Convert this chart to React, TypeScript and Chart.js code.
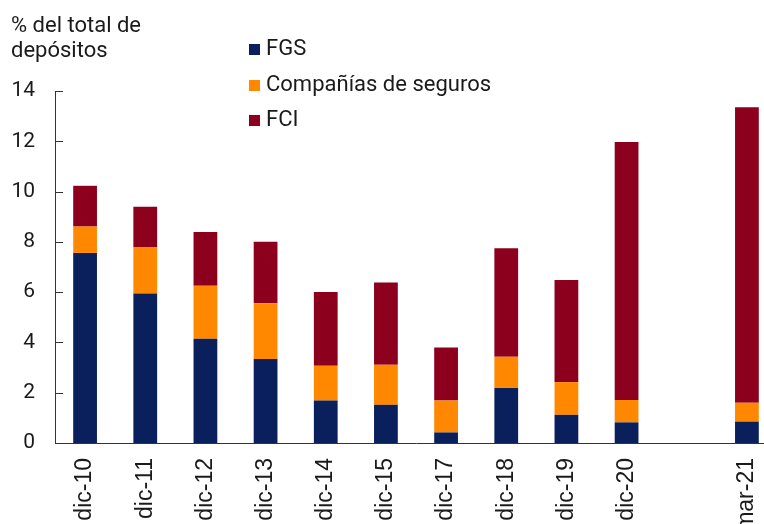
import React, { useEffect, useRef } from 'react';
import { Chart, registerables } from 'chart.js';

Chart.register(...registerables);

const categories = ['dic-10', 'dic-11', 'dic-12', 'dic-13', 'dic-14', 'dic-15', 'dic-17', 'dic-18', 'dic-19', 'dic-20', '', 'mar-21'];
const fgs = [7.56, 5.95, 4.15, 3.34, 1.69, 1.52, 0.42, 2.19, 1.12, 0.82, null, 0.85];
const companias = [1.05, 1.85, 2.1, 2.22, 1.38, 1.59, 1.27, 1.24, 1.3, 0.89, null, 0.75];
const fci = [1.62, 1.6, 2.14, 2.44, 2.94, 3.27, 2.11, 4.32, 4.06, 10.26, null, 11.75];
const yTicks = [0, 2, 4, 6, 8, 10, 12, 14];
const titleLines = ['% del total de', 'depósitos'];
const seriesNames = ['FGS', 'Compañías de seguros', 'FCI'];
const seriesColors = ['#0a205c', '#ff8800', '#8c001e'];

const AXIS = '#333333';
const TEXT = '#1a1a1a';

const overlayPlugin = {
  id: 'overlay',
  afterDraw(chart: any) {
    const ctx = chart.ctx;
    const y = chart.scales.y;
    const area = chart.chartArea;
    ctx.save();
    // inward y ticks
    ctx.strokeStyle = AXIS;
    ctx.lineWidth = 1;
    yTicks.forEach((v) => {
      const py = Math.round(y.getPixelForValue(v)) + 0.5;
      ctx.beginPath();
      ctx.moveTo(area.left, py);
      ctx.lineTo(area.left + 8, py);
      ctx.stroke();
    });
    // title
    ctx.fillStyle = TEXT;
    ctx.font = '22px Roboto';
    ctx.textAlign = 'left';
    ctx.textBaseline = 'alphabetic';
    titleLines.forEach((t, i) => ctx.fillText(t, 11, 32 + i * 25));
    // legend
    const rows = [55, 91, 126];
    chart.data.datasets.forEach((ds: any, i: number) => {
      ctx.fillStyle = ds.backgroundColor;
      ctx.fillRect(249, rows[i] - 11, 11, 11);
      ctx.fillStyle = TEXT;
      ctx.fillText(ds.label, 266, rows[i]);
    });
    ctx.restore();
  },
};

export default function App() {
  const ref = useRef<HTMLCanvasElement>(null);
  useEffect(() => {
    document.documentElement.style.overflow = 'hidden';
    document.body.style.overflow = 'hidden';
    const chart = new Chart(ref.current!, {
      type: 'bar',
      data: {
        labels: categories,
        datasets: [fgs, companias, fci].map((d, i) => ({
          label: seriesNames[i],
          data: d,
          backgroundColor: seriesColors[i],
          borderWidth: 0,
          categoryPercentage: 1,
          barPercentage: 0.395,
        })),
      },
      options: {
        responsive: false,
        animation: false,
        devicePixelRatio: 1,
        layout: { padding: { left: 0, right: 23, top: 91, bottom: 0 } },
        plugins: { legend: { display: false }, tooltip: { enabled: false } },
        scales: {
          x: {
            stacked: true,
            grid: { display: false, drawTicks: false },
            border: { display: true, color: AXIS, width: 1 },
            ticks: {
              autoSkip: false,
              maxRotation: 90,
              minRotation: 90,
              padding: 15,
              color: TEXT,
              font: { family: 'Liberation Sans', size: 23 },
            },
            afterFit: (s: any) => { s.height = 81; },
          },
          y: {
            stacked: true,
            min: 0,
            max: 14,
            grid: { display: false, drawTicks: false },
            border: { display: true, color: AXIS, width: 1 },
            ticks: {
              stepSize: 2,
              padding: 20,
              color: TEXT,
              font: { family: 'Roboto', size: 21 },
            },
            afterFit: (s: any) => { s.width = 55; },
          },
        },
      },
      plugins: [overlayPlugin],
    });
    return () => chart.destroy();
  }, []);
  return (
    <div style={{ position: 'absolute', left: 0, top: 0, width: 800, height: 524 }}>
      <canvas ref={ref} width={800} height={524} />
    </div>
  );
}
